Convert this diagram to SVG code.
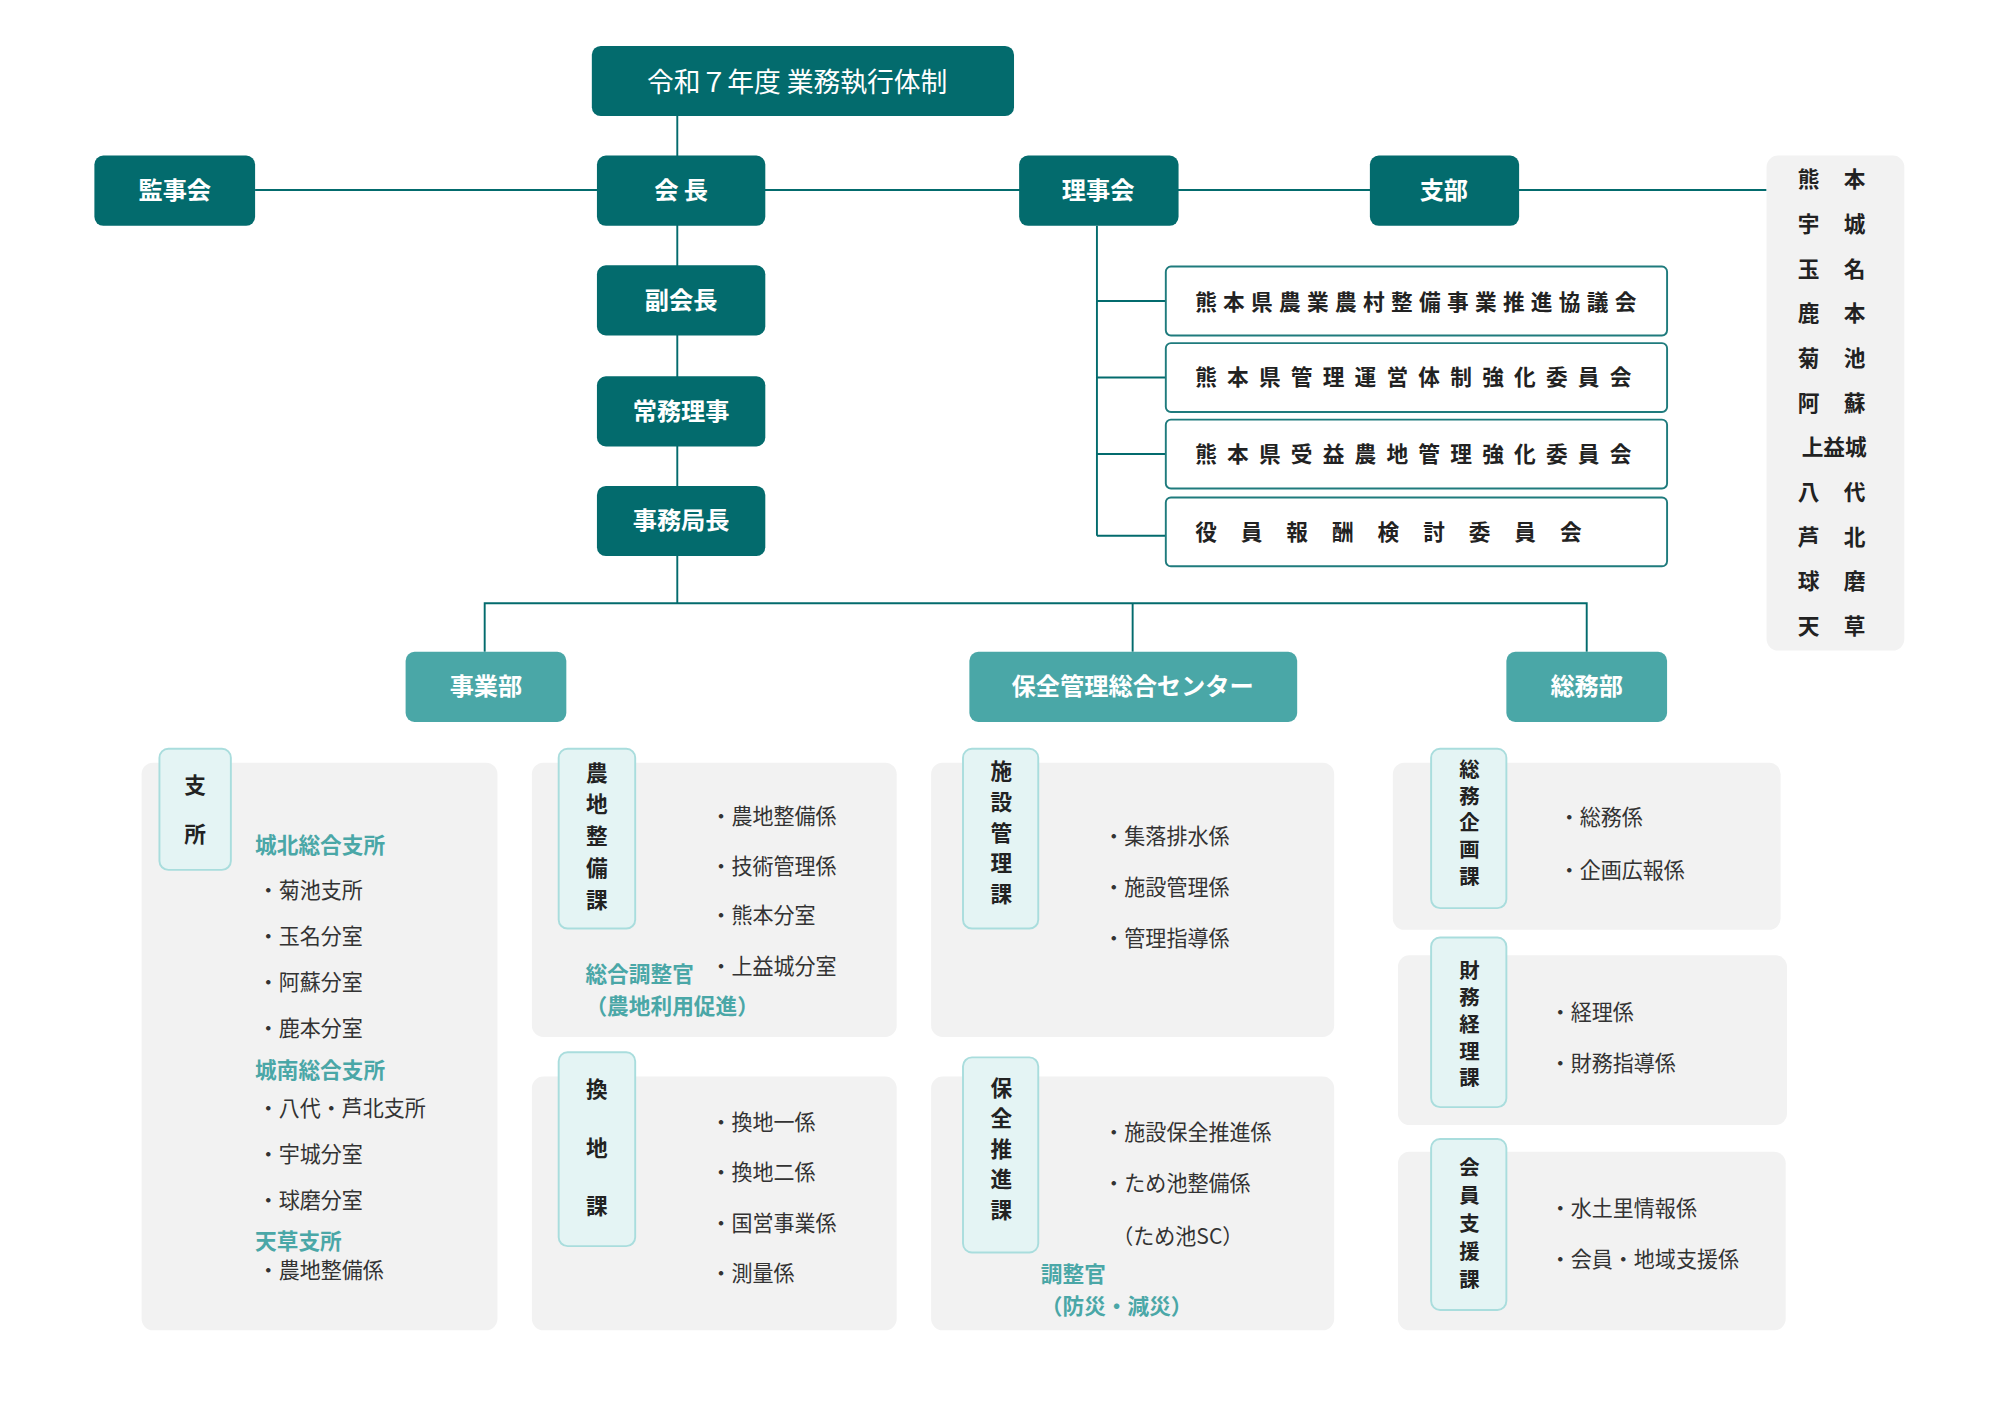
<svg xmlns="http://www.w3.org/2000/svg" width="2000" height="1414" viewBox="0 0 2000 1414">
<style>
text{font-family:"Noto Sans CJK JP","Noto Sans",sans-serif}
.d{fill:#036b6d}
.m{fill:#4aa7a7}
.wt{fill:#fff;font-weight:bold;font-size:19px;text-anchor:middle}
.ln{stroke:#036b6d;stroke-width:1.5;fill:none}
.cm{fill:#fff;stroke:#1f7b7d;stroke-width:1.5}
.ct{fill:#222;font-weight:bold;font-size:17px}
.pn{fill:#f2f2f2}
.tab{fill:#e4f4f4;stroke:#a9dddd;stroke-width:1.5}
.tt{fill:#222;font-weight:bold;font-size:17px;text-anchor:middle}
.ts{font-size:16px}
.it{fill:#333;font-size:16.5px}
.sh{fill:#4aa7a7;font-weight:bold;font-size:17px}
.br{fill:#222;font-weight:bold;font-size:17px;text-anchor:middle}
</style>
<rect width="2000" height="1414" fill="#fff"/>
<g transform="scale(1.2755)">
<g id="connectors">
<path class="ln" d="M531 91V473M200 149H1385M860 177V420M860 236H914M860 296H914M860 356H914M860 420H914M380 511V473H1244V511M888 473V511"/>
</g>
<g id="title"><rect class="d" x="464" y="36" width="331" height="55" rx="7"/><text x="625" y="72" fill="#fff" font-size="21" text-anchor="middle">令和７年度 業務執行体制</text></g>
<g id="kanjikai"><rect class="d" x="74" y="122" width="126" height="55" rx="7"/><text class="wt" x="137" y="156">監事会</text></g>
<g id="kaicho"><rect class="d" x="468" y="122" width="132" height="55" rx="7"/><text class="wt" x="534" y="156">会 長</text></g>
<g id="rijikai"><rect class="d" x="799" y="122" width="125" height="55" rx="7"/><text class="wt" x="861" y="156">理事会</text></g>
<g id="shibu"><rect class="d" x="1074" y="122" width="117" height="55" rx="7"/><text class="wt" x="1132" y="156">支部</text></g>
<g id="fukukaicho"><rect class="d" x="468" y="208" width="132" height="55" rx="7"/><text class="wt" x="534" y="242">副会長</text></g>
<g id="jomu"><rect class="d" x="468" y="295" width="132" height="55" rx="7"/><text class="wt" x="534" y="329">常務理事</text></g>
<g id="jimukyoku"><rect class="d" x="468" y="381" width="132" height="55" rx="7"/><text class="wt" x="534" y="415">事務局長</text></g>
<g id="com1"><rect class="cm" x="914" y="209" width="393" height="54" rx="4"/><text class="ct" x="937" y="243" textLength="346">熊本県農業農村整備事業推進協議会</text></g>
<g id="com2"><rect class="cm" x="914" y="269" width="393" height="54" rx="4"/><text class="ct" x="937" y="302" textLength="342">熊本県管理運営体制強化委員会</text></g>
<g id="com3"><rect class="cm" x="914" y="329" width="393" height="54" rx="4"/><text class="ct" x="937" y="362" textLength="342">熊本県受益農地管理強化委員会</text></g>
<g id="com4"><rect class="cm" x="914" y="390" width="393" height="54" rx="4"/><text class="ct" x="937" y="423" textLength="303">役員報酬検討委員会</text></g>
<g id="branches"><rect class="pn" x="1385" y="122" width="108" height="388" rx="9"/>
<g class="br">
<text x="1418" y="147">熊</text><text x="1454" y="147">本</text>
<text x="1418" y="182">宇</text><text x="1454" y="182">城</text>
<text x="1418" y="217">玉</text><text x="1454" y="217">名</text>
<text x="1418" y="252">鹿</text><text x="1454" y="252">本</text>
<text x="1418" y="287">菊</text><text x="1454" y="287">池</text>
<text x="1418" y="322">阿</text><text x="1454" y="322">蘇</text>
<text x="1438" y="357">上益城</text>
<text x="1418" y="392">八</text><text x="1454" y="392">代</text>
<text x="1418" y="427">芦</text><text x="1454" y="427">北</text>
<text x="1418" y="462">球</text><text x="1454" y="462">磨</text>
<text x="1418" y="497">天</text><text x="1454" y="497">草</text>
</g></g>
<g id="jigyobu"><rect class="m" x="318" y="511" width="126" height="55" rx="7"/><text class="wt" x="381" y="545">事業部</text></g>
<g id="center"><rect class="m" x="760" y="511" width="257" height="55" rx="7"/><text class="wt" x="888" y="545">保全管理総合センター</text></g>
<g id="somubu"><rect class="m" x="1181" y="511" width="126" height="55" rx="7"/><text class="wt" x="1244" y="545">総務部</text></g>

<g id="shisho"><rect class="pn" x="111" y="598" width="279" height="445" rx="9"/><rect class="tab" x="125" y="587" width="56" height="95" rx="7"/>
<text class="tt" x="153" y="622">支</text><text class="tt" x="153" y="660">所</text>
<text class="sh" x="200" y="669">城北総合支所</text>
<text class="it" x="202" y="704">・菊池支所</text><text class="it" x="202" y="740">・玉名分室</text><text class="it" x="202" y="776">・阿蘇分室</text><text class="it" x="202" y="812">・鹿本分室</text>
<text class="sh" x="200" y="845">城南総合支所</text>
<text class="it" x="202" y="875">・八代・芦北支所</text><text class="it" x="202" y="911">・宇城分室</text><text class="it" x="202" y="947">・球磨分室</text>
<text class="sh" x="200" y="979">天草支所</text>
<text class="it" x="202" y="1002">・農地整備係</text></g>

<g id="nochi"><rect class="pn" x="417" y="598" width="286" height="215" rx="9"/><rect class="tab" x="438" y="587" width="60" height="141" rx="7"/>
<text class="tt" x="468" y="612">農</text><text class="tt" x="468" y="637">地</text><text class="tt" x="468" y="662">整</text><text class="tt" x="468" y="687">備</text><text class="tt" x="468" y="712">課</text>
<text class="it" x="557" y="646">・農地整備係</text><text class="it" x="557" y="685">・技術管理係</text><text class="it" x="557" y="724">・熊本分室</text><text class="it" x="557" y="764">・上益城分室</text>
<text class="sh" x="459" y="770" font-size="16">総合調整官</text><text class="sh" x="459" y="795" font-size="16">（農地利用促進）</text></g>

<g id="kanchi"><rect class="pn" x="417" y="844" width="286" height="199" rx="9"/><rect class="tab" x="438" y="825" width="60" height="152" rx="7"/>
<text class="tt" x="468" y="860">換</text><text class="tt" x="468" y="906">地</text><text class="tt" x="468" y="952">課</text>
<text class="it" x="557" y="886">・換地一係</text><text class="it" x="557" y="925">・換地二係</text><text class="it" x="557" y="965">・国営事業係</text><text class="it" x="557" y="1004">・測量係</text></g>

<g id="shisetsu"><rect class="pn" x="730" y="598" width="316" height="215" rx="9"/><rect class="tab" x="755" y="587" width="59" height="141" rx="7"/>
<text class="tt" x="785" y="611">施</text><text class="tt" x="785" y="635">設</text><text class="tt" x="785" y="659">管</text><text class="tt" x="785" y="683">理</text><text class="tt" x="785" y="707">課</text>
<text class="it" x="865" y="662">・集落排水係</text><text class="it" x="865" y="702">・施設管理係</text><text class="it" x="865" y="742">・管理指導係</text></g>

<g id="hozen"><rect class="pn" x="730" y="844" width="316" height="199" rx="9"/><rect class="tab" x="755" y="829" width="59" height="153" rx="7"/>
<text class="tt" x="785" y="859">保</text><text class="tt" x="785" y="883">全</text><text class="tt" x="785" y="907">推</text><text class="tt" x="785" y="931">進</text><text class="tt" x="785" y="955">課</text>
<text class="it" x="865" y="894">・施設保全推進係</text><text class="it" x="865" y="934">・ため池整備係</text><text class="it" x="872" y="975">（ため池SC）</text>
<text class="sh" x="816" y="1005" font-size="16">調整官</text><text class="sh" x="816" y="1030" font-size="16">（防災・減災）</text></g>

<g id="somukikaku"><rect class="pn" x="1092" y="598" width="304" height="131" rx="9"/><rect class="tab" x="1122" y="587" width="59" height="125" rx="7"/>
<text class="tt ts" x="1152" y="609">総</text><text class="tt ts" x="1152" y="630">務</text><text class="tt ts" x="1152" y="651">企</text><text class="tt ts" x="1152" y="672">画</text><text class="tt ts" x="1152" y="693">課</text>
<text class="it" x="1222" y="647">・総務係</text><text class="it" x="1222" y="688">・企画広報係</text></g>

<g id="zaimu"><rect class="pn" x="1096" y="749" width="305" height="133" rx="9"/><rect class="tab" x="1122" y="735" width="59" height="133" rx="7"/>
<text class="tt ts" x="1152" y="767">財</text><text class="tt ts" x="1152" y="788">務</text><text class="tt ts" x="1152" y="809">経</text><text class="tt ts" x="1152" y="830">理</text><text class="tt ts" x="1152" y="851">課</text>
<text class="it" x="1215" y="800">・経理係</text><text class="it" x="1215" y="840">・財務指導係</text></g>

<g id="kaiin"><rect class="pn" x="1096" y="903" width="304" height="140" rx="9"/><rect class="tab" x="1122" y="893" width="59" height="134" rx="7"/>
<text class="tt ts" x="1152" y="921">会</text><text class="tt ts" x="1152" y="943">員</text><text class="tt ts" x="1152" y="965">支</text><text class="tt ts" x="1152" y="987">援</text><text class="tt ts" x="1152" y="1009">課</text>
<text class="it" x="1215" y="953">・水土里情報係</text><text class="it" x="1215" y="993">・会員・地域支援係</text></g>
</g>
</svg>
